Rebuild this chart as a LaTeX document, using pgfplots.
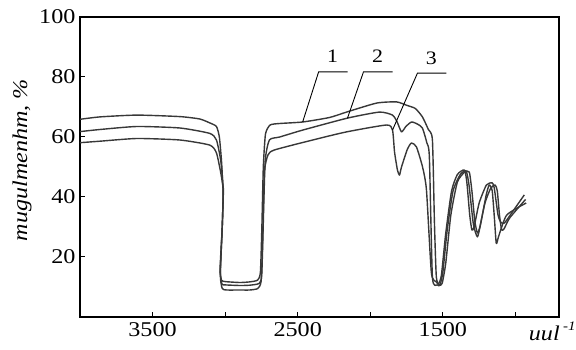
\documentclass[border=0pt]{standalone}
\usepackage{pgfplots}
\pgfplotsset{compat=1.18}
\usepackage{fontspec}
\setmainfont[FakeStretch=1.15]{Liberation Serif}
\begin{document}
\begin{tikzpicture}
\useasboundingbox (-80pt,-33pt) rectangle (496pt,317pt);
\begin{axis}[
  at={(0,0)}, anchor=south west,
  scale only axis, width=479pt, height=300pt,
  xmin=700, xmax=4000, ymin=0, ymax=100,
  x dir=reverse,
  axis line style={line width=1.2pt},
  xtick={1000,1500,2000,2500,3000,3500},
  xticklabels={,1500,,2500,,3500},
  ytick={20,40,60,80,100},
  tick align=inside,
  xtick pos=bottom, ytick pos=left,
  major tick length=5pt,
  tick style={line width=1pt, black},
  /pgf/number format/assume math mode=true,
  /pgf/number format/1000 sep={},
  tick label style={font=\fontsize{21}{23}\selectfont},
  xticklabel style={yshift=-2pt},
  yticklabel style={xshift=-1pt},
  xlabel={\textit{uul}\,\raisebox{1.0ex}{\fontsize{13}{14}\selectfont\textit{-1}}},
  xlabel style={at={(axis description cs:0.986,-0.047)}, anchor=center, font=\fontsize{21}{23}\selectfont},
  ylabel={\textit{mugulmenhm, \%}},
  ylabel style={at={(axis description cs:-0.121,0.523)}, anchor=center, font=\fontsize{21}{23}\selectfont},
  every axis plot/.append style={line width=1.4pt, black!78, line join=round},
]
% curve 1 (top)
\addplot[smooth, tension=0.35] coordinates {
(4000,65.9)(3862,66.7)(3608,67.3)(3312,66.8)(3175,66)(3106,64.7)(3060,63.5)(3040,60)(3025,52)(3016,44)(3012,42)
(3020,30)(3035,16)(3025,12.3)(3000,11.8)(2900,11.5)(2831,11.7)(2776,12.3)(2757,15)(2747,30)(2737,50)(2722,61)(2690,64)(2624,64.5)
(2466,65)(2281,66.5)(2164,68.3)(1957,71.3)(1820,71.7)(1751,70.6)(1690,69.5)(1641,66.7)(1600,62.5)(1572,59)(1558,31.3)(1545,13.3)
(1524,10.7)(1505,11.2)(1480,18)(1445,34)(1400,45)(1350,48.3)(1318,48.3)(1300,42)(1280,32)(1262,28)(1245,30)(1210,38)(1170,43)
(1140,44)(1125,42)(1110,34)(1095,29)(1077,29.5)(1040,33)(930,39.2)};
% curve 2 (middle)
\addplot[smooth, tension=0.35] coordinates {
(4000,61.8)(3862,62.5)(3608,63.5)(3312,63)(3106,61.2)(3060,59)(3030,52)(3014,42.5)
(3020,30)(3033,15)(3022,11)(3000,10.7)(2900,10.5)(2831,10.6)(2765,11.2)(2748,14)(2738,30)(2724,52)(2695,59)(2624,60)
(2466,62.3)(2157,66.3)(1937,68.3)(1847,67.3)(1815,65)(1785,61.7)(1755,63.5)(1716,65)(1675,64.3)(1641,63)(1610,58)(1593,53.3)(1572,13.3)
(1538,10.7)(1520,10.6)(1500,15)(1470,29)(1430,42)(1380,47.5)(1340,48.7)(1320,44)(1290,31)(1262,26.7)(1240,31)(1200,41)
(1180,44)(1160,42)(1145,33)(1132,24.5)(1115,27)(1060,34)(926,38)};
% curve 3 (bottom)
\addplot[smooth, tension=0.35] coordinates {
(4000,58.1)(3862,58.6)(3608,59.5)(3312,59)(3106,57.3)(3060,54.7)(3030,48)(3014,42.3)
(3020,30)(3033,14)(3020,9.5)(2989,9)(2900,9)(2831,9)(2775,9.5)(2752,12)(2742,25)(2730,48)(2705,54)(2659,55.7)
(2397,59)(2164,61.7)(1888,64)(1847,62.3)(1833,55)(1813,49)(1799,47.3)(1785,50)(1744,56)(1716,58)(1682,56.7)(1640,50)(1613,42.3)(1579,14.7)
(1545,11.7)(1530,11)(1510,14)(1480,28)(1440,42)(1400,47.5)(1352,49)(1335,45)(1315,34)(1300,29)(1285,30)(1250,38)(1200,44)
(1160,44.7)(1146,43)(1120,34)(1100,31.5)(1077,31.3)(1050,33)(939,40.7)};
% labels
\draw[line width=0.9pt] (2466,65) -- (2356,81.7) -- (2157,81.7);
\draw[line width=0.9pt] (2157,66.3) -- (2047,81.7) -- (1847,81.7);
\draw[line width=0.9pt] (1847,62.3) -- (1675,81.3) -- (1476,81.3);
\node[font=\fontsize{19}{21}\selectfont] at (2260,86.8) {1};
\node[font=\fontsize{19}{21}\selectfont] at (1950,86.8) {2};
\node[font=\fontsize{19}{21}\selectfont] at (1579,86.3) {3};
\end{axis}
\end{tikzpicture}
\end{document}
